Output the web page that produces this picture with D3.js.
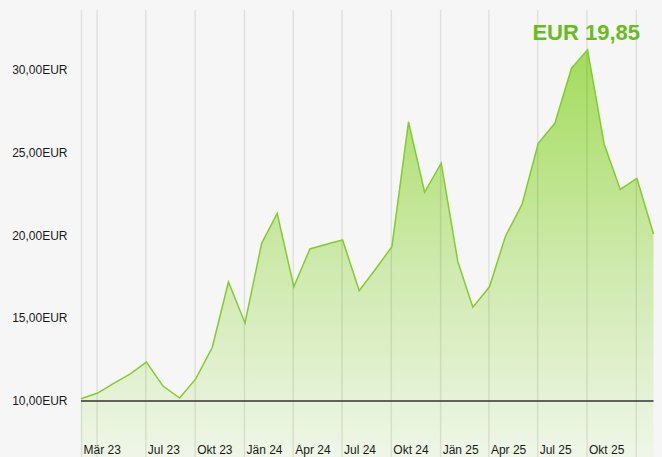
<!DOCTYPE html>
<html>
<head>
<meta charset="utf-8">
<script src="https://cdn.jsdelivr.net/npm/d3@7"></script>
<style>
  body { margin: 0; background: #f6f6f6; }
  svg { display: block; font-family: "Liberation Sans", Arial, sans-serif; }
</style>
</head>
<body>
<div id="container"></div>
<script>
// monthly prices
var months = ["2023-03","2023-04","2023-05","2023-06","2023-07","2023-08","2023-09","2023-10","2023-11","2023-12",
              "2024-01","2024-02","2024-03","2024-04","2024-05","2024-06","2024-07","2024-08","2024-09","2024-10","2024-11","2024-12",
              "2025-01","2025-02","2025-03","2025-04","2025-05","2025-06","2025-07","2025-08","2025-09","2025-10","2025-11","2025-12",
              "2026-01","2026-02"];
var prices = [10.14,10.48,11.06,11.63,12.35,10.90,10.18,11.33,13.24,17.18,
              14.71,19.51,21.32,16.89,19.17,19.45,19.71,16.65,17.98,19.31,26.83,22.59,
              24.34,18.40,15.65,16.89,19.95,21.88,25.54,26.75,30.07,31.17,25.48,22.76,
              23.43,20.07];

// x ticks (gridlines) and their labels
var tickDates = ["2023-03-03","2023-04-01","2023-07-01","2023-10-01","2024-01-01","2024-04-01","2024-07-01",
                 "2024-10-01","2025-01-01","2025-04-01","2025-07-01","2025-10-01","2026-01-01"];
var tickLabels = ["Mär 23","","Jul 23","Okt 23","Jän 24","Apr 24","Jul 24",
                  "Okt 24","Jän 25","Apr 25","Jul 25","Okt 25",""];
var yTicks = [10, 15, 20, 25, 30];
var currentPrice = "EUR 19,85";

var width = 662, height = 457;
var plot = {left: 81, right: 653.5, top: 10, base: 401, y30: 69.4};

var parseDay = d3.timeParse("%Y-%m-%d");
var data = months.map(function(m, i) { return {date: parseDay(m + "-03"), value: prices[i]}; });

var deLocale = d3.formatLocale({decimal: ",", thousands: ".", grouping: [3], currency: ["", "EUR"]});
var fmt = deLocale.format(".2f");

var svg = d3.select("#container").append("svg")
  .attr("width", width)
  .attr("height", height);

svg.append("rect").attr("width", width).attr("height", height).attr("fill", "#f6f6f6");

var x = d3.scaleTime()
  .domain(d3.extent(data, function(d) { return d.date; }))
  .range([plot.left, plot.right]);
var y = d3.scaleLinear().domain([10, 30]).range([plot.base, plot.y30]);

// gradient for the area
var grad = svg.append("defs").append("linearGradient")
  .attr("id", "fillGrad")
  .attr("gradientUnits", "userSpaceOnUse")
  .attr("x1", 0).attr("x2", 0)
  .attr("y1", y(d3.max(prices))).attr("y2", height);
grad.append("stop").attr("offset", "0%").attr("stop-color", "#a3dc5b");
grad.append("stop").attr("offset", "55%").attr("stop-color", "#d0eab0");
grad.append("stop").attr("offset", "100%").attr("stop-color", "#eff6e8");

var area = d3.area()
  .x(function(d) { return x(d.date); })
  .y0(height)
  .y1(function(d) { return y(d.value); });

var line = d3.line()
  .x(function(d) { return x(d.date); })
  .y(function(d) { return y(d.value); });

svg.append("path")
  .datum(data)
  .attr("d", area)
  .attr("fill", "url(#fillGrad)");

// x axis with full height gridlines
var xAxis = d3.axisBottom(x)
  .tickValues(tickDates.map(parseDay))
  .tickFormat(function(d, i) { return tickLabels[i]; })
  .tickSizeInner(-(height - plot.top))
  .tickSizeOuter(0);

var gx = svg.append("g")
  .attr("class", "x axis")
  .attr("transform", "translate(0," + height + ")")
  .call(xAxis);
gx.select(".domain").remove();
gx.selectAll(".tick line")
  .attr("stroke", "rgba(0,0,0,0.085)")
  .attr("stroke-width", 1.5);
gx.selectAll(".tick text")
  .attr("x", 2)
  .attr("y", -3.5)
  .attr("dy", null)
  .style("text-anchor", "start")
  .style("font-size", "12px")
  .style("font-family", "'Liberation Sans', Arial, sans-serif")
  .attr("fill", "#1a1a1a");

// y axis labels
var yAxis = d3.axisLeft(y)
  .tickValues(yTicks)
  .tickFormat(function(d) { return fmt(d) + "EUR"; })
  .tickSize(0)
  .tickPadding(0);

var gy = svg.append("g")
  .attr("class", "y axis")
  .attr("transform", "translate(67.5,0)")
  .call(yAxis);
gy.select(".domain").remove();
gy.selectAll(".tick text")
  .style("font-size", "12px")
  .style("font-family", "'Liberation Sans', Arial, sans-serif")
  .attr("fill", "#1a1a1a");

// baseline at 10 EUR
svg.append("line")
  .attr("x1", plot.left).attr("x2", plot.right)
  .attr("y1", y(10)).attr("y2", y(10))
  .attr("stroke", "#333")
  .attr("stroke-width", 1.5);

svg.append("path")
  .datum(data)
  .attr("d", line)
  .attr("fill", "none")
  .attr("stroke", "#82cc2e")
  .attr("stroke-width", 1.5)
  .attr("stroke-linejoin", "miter");

// current price header
svg.append("text")
  .attr("x", 640)
  .attr("y", 39.5)
  .style("text-anchor", "end")
  .style("font-size", "22px")
  .style("font-weight", "bold")
  .attr("fill", "#68bd1a")
  .text(currentPrice);
</script>
</body>
</html>
